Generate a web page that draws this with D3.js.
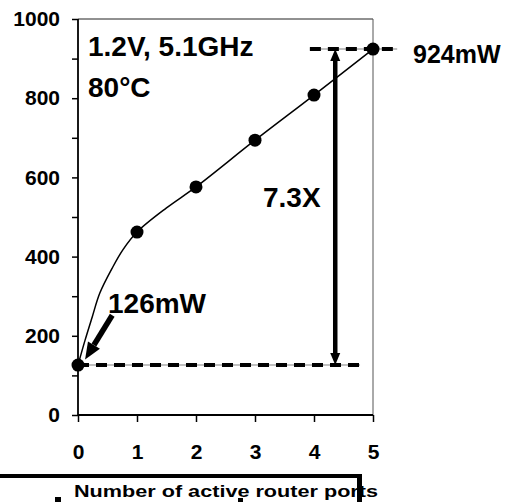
<!DOCTYPE html>
<html>
<head>
<meta charset="utf-8">
<script src="https://cdn.jsdelivr.net/npm/d3@7"></script>
<style>
  body { margin: 0; background: #fff; }
  text { font-family: "Liberation Sans", Arial, sans-serif; font-weight: bold; fill: #000; }
</style>
</head>
<body>
<div id="chart"></div>
<script>
// measured points (markers)
var ports = [0, 1, 2, 3, 4, 5];
var power = [126, 462, 576, 694, 808, 924];

// the smoothed line (extra points between 0 and 2)
var lineX = [0, 0.12, 0.24, 0.37, 0.58, 0.76, 1, 1.5, 2, 3, 4, 5];
var lineY = [126, 189, 247, 308, 371, 417, 462, 523, 576, 694, 808, 924];

var yTicks = [0, 100, 200, 300, 400, 500, 600, 700, 800, 900, 1000];
var yLabels = [0, 200, 400, 600, 800, 1000];
var xTicks = [0, 1, 2, 3, 4, 5];

var svgWidth = 510;
var svgHeight = 502;

var margin = { top: 19, left: 78 };
var width = 295;
var height = 396;

var svg = d3.select("#chart")
  .append("svg")
  .attr("width", svgWidth)
  .attr("height", svgHeight);

var chartGroup = svg.append("g")
  .attr("transform", `translate(${margin.left}, ${margin.top})`);

var x = d3.scaleLinear().domain([0, 5]).range([0, width]);
var y = d3.scaleLinear().domain([0, 1000]).range([height, 0]);

// frame: top and right borders
chartGroup.append("line")
  .attr("x1", 0).attr("x2", width).attr("y1", 0).attr("y2", 0)
  .attr("stroke", "#222").attr("stroke-width", 1);
chartGroup.append("line")
  .attr("x1", width).attr("x2", width).attr("y1", 0).attr("y2", height)
  .attr("stroke", "#555").attr("stroke-width", 1);

// y axis
var leftAxis = d3.axisLeft(y)
  .tickValues(yTicks)
  .tickSize(6)
  .tickPadding(12)
  .tickFormat(d => yLabels.indexOf(d) >= 0 ? d : "");
var yAxis = chartGroup.append("g").call(leftAxis);
yAxis.select(".domain").remove();
yAxis.selectAll("line").attr("stroke", "#000").attr("stroke-width", 1.5);
yAxis.selectAll("text").attr("font-size", 21).attr("font-family", null);

// x axis
var bottomAxis = d3.axisBottom(x)
  .tickValues(xTicks)
  .tickSize(7)
  .tickPadding(22)
  .tickFormat(d3.format("d"));
var xAxis = chartGroup.append("g")
  .attr("transform", `translate(0, ${height})`)
  .call(bottomAxis);
xAxis.select(".domain").remove();
xAxis.selectAll("line").attr("stroke", "#000").attr("stroke-width", 1.5);
xAxis.selectAll("text").attr("font-size", 21).attr("font-family", null);

// axis lines
chartGroup.append("line")
  .attr("x1", 0).attr("x2", 0).attr("y1", 0).attr("y2", height)
  .attr("stroke", "#000").attr("stroke-width", 1.8);
chartGroup.append("line")
  .attr("x1", 0).attr("x2", width).attr("y1", height).attr("y2", height)
  .attr("stroke", "#000").attr("stroke-width", 1.8);

// dashed reference lines
function dashed(xa, xb, v) {
  chartGroup.append("line")
    .attr("x1", x(xa)).attr("x2", x(xb)).attr("y1", y(v)).attr("y2", y(v))
    .attr("stroke", "#c0c0c0").attr("stroke-width", 2);
  chartGroup.append("line")
    .attr("x1", x(xa)).attr("x2", x(xb)).attr("y1", y(v)).attr("y2", y(v))
    .attr("stroke", "#000").attr("stroke-width", 4)
    .attr("stroke-dasharray", "11,7");
}
dashed(0, 4.78, power[0]);
dashed(3.93, 5.41, power[5]);

// arrow helper (pixel coords inside chartGroup)
function arrow(x1, y1, x2, y2, w, hl, hw) {
  var dx = x2 - x1, dy = y2 - y1;
  var len = Math.sqrt(dx * dx + dy * dy);
  var ux = dx / len, uy = dy / len;
  var bx = x2 - ux * hl, by = y2 - uy * hl;
  chartGroup.append("line")
    .attr("x1", x1).attr("y1", y1).attr("x2", bx).attr("y2", by)
    .attr("stroke", "#000").attr("stroke-width", w);
  var pts = [[x2, y2], [bx - uy * hw / 2, by + ux * hw / 2], [bx + uy * hw / 2, by - ux * hw / 2]];
  chartGroup.append("polygon")
    .attr("points", pts.map(p => p.join(",")).join(" "))
    .attr("fill", "#000");
}

// 7.3X double arrow
var xv = 4.36;
var midV = (power[0] + power[5]) / 2;
arrow(x(xv), y(midV), x(xv), y(power[5]), 4.5, 12, 10);
arrow(x(xv), y(midV), x(xv), y(power[0]), 4.5, 12, 10);

// 126mW pointer
arrow(x(0.58), y(252), x(0.12), y(140), 5.5, 17, 14);

// smoothed power curve
var line = d3.line()
  .x((d, i) => x(lineX[i]))
  .y(d => y(d))
  .curve(d3.curveCatmullRom.alpha(0.5));
chartGroup.append("path")
  .attr("d", line(lineY))
  .attr("fill", "none")
  .attr("stroke", "#000")
  .attr("stroke-width", 1.5);

// markers
chartGroup.selectAll("circle")
  .data(power)
  .enter()
  .append("circle")
  .attr("cx", (d, i) => x(ports[i]))
  .attr("cy", d => y(d))
  .attr("r", 6.5)
  .attr("fill", "#000");

// annotations
svg.append("text").attr("x", 88).attr("y", 56).attr("font-size", 28).text("1.2V, 5.1GHz");
svg.append("text").attr("x", 88).attr("y", 97).attr("font-size", 28).text("80°C");
svg.append("text").attr("x", 263).attr("y", 207).attr("font-size", 28).text("7.3X");
svg.append("text").attr("x", 108).attr("y", 313).attr("font-size", 28).text("126mW");
svg.append("text").attr("x", 413).attr("y", 63).attr("font-size", 25).text("924mW");

// x axis title (partly cropped in the original)
svg.append("text")
  .attr("x", 74).attr("y", 497)
  .attr("font-size", 17)
  .attr("textLength", 304)
  .attr("lengthAdjust", "spacingAndGlyphs")
  .text("Number of active router ports");

// crop frame lines at the bottom
svg.append("rect").attr("x", 0).attr("y", 474).attr("width", 362).attr("height", 4).attr("fill", "#000");
svg.append("rect").attr("x", 357).attr("y", 474).attr("width", 5).attr("height", 28).attr("fill", "#000");
svg.append("rect").attr("x", 55).attr("y", 497).attr("width", 6).attr("height", 5).attr("fill", "#000");
svg.append("rect").attr("x", 238).attr("y", 498).attr("width", 5).attr("height", 4).attr("fill", "#000");
</script>
</body>
</html>
